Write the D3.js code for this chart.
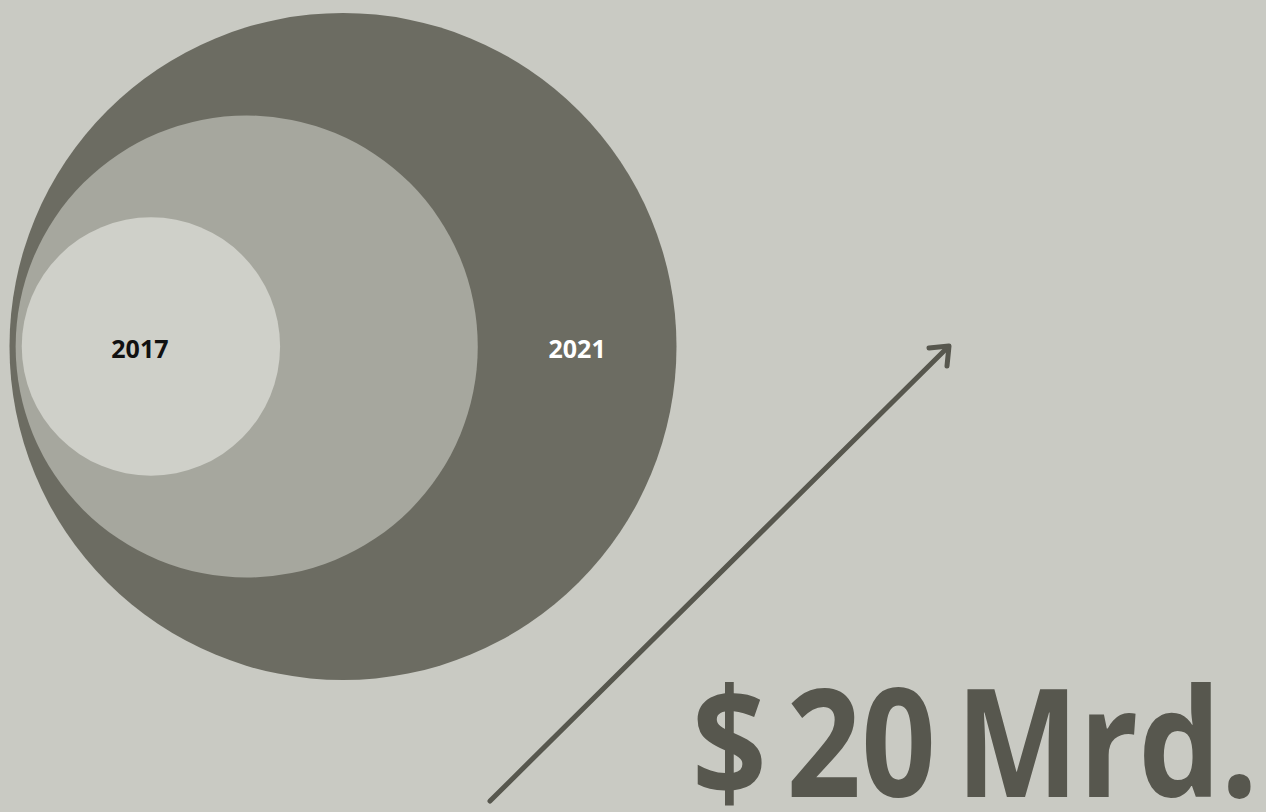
<!DOCTYPE html>
<html><head><meta charset="utf-8">
<script src="https://cdn.jsdelivr.net/npm/d3@7"></script>
<style>html,body{margin:0;padding:0;background:#c9cac3;overflow:hidden}</style>
</head><body>
<svg id="c" width="1266" height="812"></svg>
<script>
const years = ["2017", "2019", "2021"];
const values = [3.0, 9.6, 20];
const labels = ["2017", "", "2021"];
const headline = "$ 20 Mrd.";

const W = 1266, H = 812;
const svg = d3.select("#c");
svg.append("rect").attr("width", W).attr("height", H).attr("fill", "#c9cac3");

const r = d3.scaleSqrt().domain([0, d3.max(values)]).range([0, 333.5]);
const fills = d3.scaleOrdinal().domain(years).range(["#cfd0c9", "#a6a79e", "#6c6c62"]);
const textFill = d3.scaleOrdinal().domain(years).range(["#111111", "#ffffff", "#ffffff"]);
const cy = 346.5;
const rMax = r(d3.max(values));
const cx = d => 343 - 0.94 * (rMax - r(d));

const data = years.map((y, i) => ({year: y, value: values[i], label: labels[i]}));
const order = data.slice().sort((a, b) => b.value - a.value);

svg.selectAll("circle.b").data(order).join("circle")
  .attr("class", "b")
  .attr("cx", d => cx(d.value)).attr("cy", cy)
  .attr("r", d => r(d.value))
  .attr("fill", d => fills(d.year));

svg.selectAll("text.lab").data(data.filter(d => d.label)).join("text")
  .attr("class", "lab")
  .attr("x", (d, i) => {
    if (i === 0) return cx(d.value) - 11;
    const prev = data[1];
    const innerRight = cx(prev.value) + r(prev.value);
    const outerRight = cx(d.value) + r(d.value);
    return (innerRight + outerRight) / 2;
  })
  .attr("y", cy + 11)
  .attr("text-anchor", "middle")
  .attr("font-family", "Open Sans, Noto Sans, sans-serif")
  .attr("font-weight", 700)
  .attr("font-size", 25)
  .attr("fill", d => textFill(d.year))
  .text(d => d.label);

// arrow
const ac = "#57574e";
const tip = [949, 346];
svg.append("line").attr("x1", 490).attr("y1", 801).attr("x2", tip[0] - 1).attr("y2", tip[1] + 1)
  .attr("stroke", ac).attr("stroke-width", 5).attr("stroke-linecap", "round");
svg.append("path")
  .attr("d", `M${tip[0]-20},${tip[1]+2} L${tip[0]},${tip[1]} L${tip[0]-2},${tip[1]+20}`)
  .attr("fill", "none").attr("stroke", ac).attr("stroke-width", 5)
  .attr("stroke-linecap", "round").attr("stroke-linejoin", "round");

// headline
svg.append("text")
  .attr("x", 692).attr("y", 797)
  .attr("font-family", "Open Sans, Noto Sans, sans-serif")
  .attr("font-weight", 700)
  .attr("font-size", 150)
  .attr("fill", ac)
  .style("letter-spacing", "0px")
  .style("word-spacing", "-16px")
  .attr("textLength", 566)
  .attr("lengthAdjust", "spacingAndGlyphs")
  .text(headline);
</script>
</body></html>
